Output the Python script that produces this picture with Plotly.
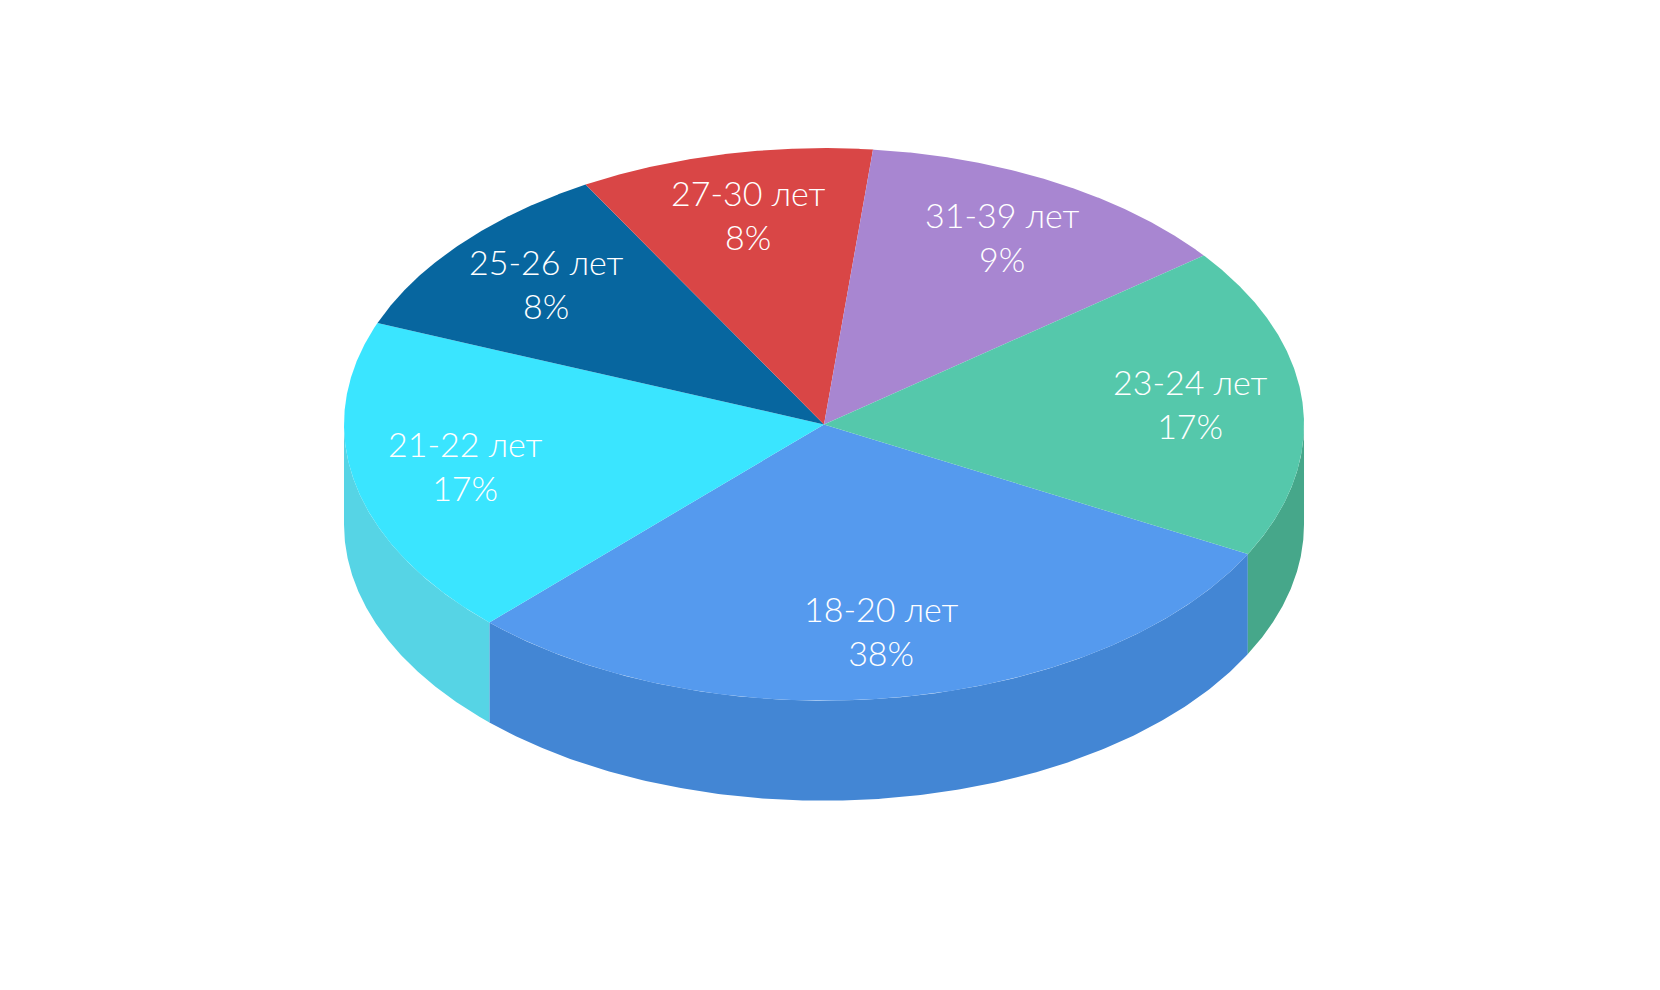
import numpy as np
import plotly.graph_objects as go

# slices, clockwise from the right-front edge
labels = ["18-20 лет", "21-22 лет", "25-26 лет", "27-30 лет", "31-39 лет", "23-24 лет"]
pct_text = ["38%", "17%", "8%", "8%", "9%", "17%"]
shares = [29.5, 18.7, 10.75, 9.9, 12.9, 18.25]   # arc share as drawn in the picture

top_colors = ["#559AEE", "#3AE5FF", "#07669F", "#D94646", "#A886D1", "#55C8AB"]
side_colors = ["#4386D4", "#56D4E5", "#05568A", "#B83A3A", "#8E70B3", "#46A78A"]

start = 28.0   # degrees, screen clockwise from east
k = 0.5756     # vertical squash of the disk
h = 0.2083     # thickness
label_r = 0.765

edges = start + np.cumsum([0] + shares) / sum(shares) * 360


def pt(t_deg, r=1.0, dy=0.0):
    t = np.radians(t_deg)
    return r * np.cos(t), -k * r * np.sin(t) - dy


fig = go.Figure()

# sides (front half only)
for i in range(len(shares)):
    a, b = edges[i], edges[i + 1]
    for off in (-360, 0, 360):
        lo, hi = max(a, off), min(b, off + 180)
        if hi <= lo:
            continue
        t = np.linspace(lo, hi, 200)
        xt, yt = pt(t)
        xb, yb = pt(t, dy=h)
        fig.add_trace(go.Scatter(
            x=np.concatenate([xt, xb[::-1], xt[:1]]),
            y=np.concatenate([yt, yb[::-1], yt[:1]]),
            mode="lines", fill="toself", fillcolor=side_colors[i],
            line=dict(width=0), hoverinfo="skip"))

# top faces
for i in range(len(shares)):
    a, b = edges[i], edges[i + 1]
    t = np.linspace(a, b, 300)
    xa, ya = pt(t)
    fig.add_trace(go.Scatter(
        x=np.concatenate([[0], xa, [0]]),
        y=np.concatenate([[0], ya, [0]]),
        mode="lines", fill="toself", fillcolor=top_colors[i],
        line=dict(width=0), hoverinfo="skip"))

# labels
for i in range(len(shares)):
    m = (edges[i] + edges[i + 1]) / 2
    lx, ly = pt(m, r=label_r)
    fig.add_annotation(x=lx, y=ly, text=labels[i] + "<br>" + pct_text[i],
                       showarrow=False, xanchor="center", yanchor="middle", yshift=3,
                       font=dict(family="Lato", size=34, color="white", weight=300))

# page body has an 8px margin, so the ranges are set to compensate
fig.update_layout(
    width=1660, height=990,
    margin=dict(l=0, r=0, t=0, b=0),
    paper_bgcolor="white", plot_bgcolor="white",
    showlegend=False,
    xaxis=dict(range=[-1.7, 1.7583], visible=False, fixedrange=True),
    yaxis=dict(range=[-1.195, 0.8675], visible=False, fixedrange=True),
)

fig.write_html("out.html")
